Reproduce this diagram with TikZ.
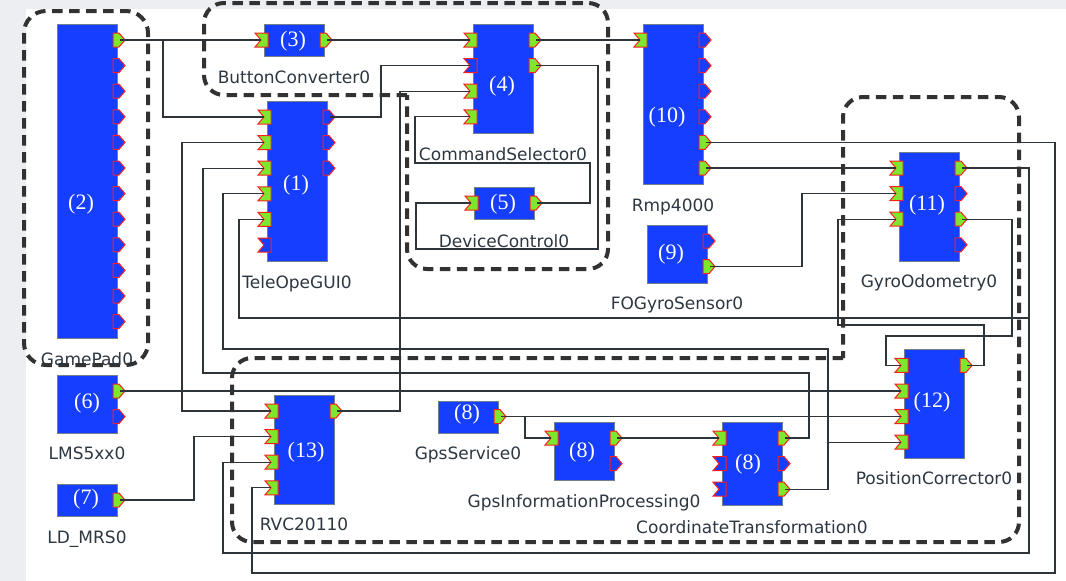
\documentclass[tikz,border=0pt]{standalone}
\usepackage{fontspec}
\setmainfont{Liberation Serif}
\newfontfamily\namefont{DejaVu Sans}

\definecolor{blockblue}{RGB}{22,62,255}
\definecolor{blockedge}{RGB}{115,128,140}
\definecolor{portgreen}{RGB}{125,230,45}
\definecolor{portred}{RGB}{255,30,30}
\definecolor{wire}{RGB}{45,52,58}
\definecolor{groupline}{RGB}{50,50,50}
\definecolor{namegray}{RGB}{45,55,65}
\definecolor{margin}{RGB}{236,238,241}

% output port: pentagon pointing right, #2 = block right edge, #3 = port height
\newcommand\portout[4]{%
  \filldraw[portshape,fill=#4] (#2-4,#3-7) -- (#2+2,#3-7) -- (#2+8,#3) -- (#2+2,#3+7) -- (#2-4,#3+7) -- cycle;
  \coordinate (#1) at (#2+3,#3);}
% input port: notched flag, #2 = block left edge, #3 = port height
\newcommand\portin[4]{%
  \filldraw[portshape,fill=#4] (#2-9,#3-7) -- (#2+4,#3-7) -- (#2+4,#3+7) -- (#2-9,#3+7) -- (#2-3,#3) -- cycle;
  \coordinate (#1) at (#2-3,#3);}

\begin{document}
\begin{tikzpicture}[x=1pt,y=-1pt,
  block/.style={rectangle,draw=blockedge,line width=0.8pt,fill=blockblue,
    minimum width=60,inner sep=0pt,anchor=north west},
  portshape/.style={draw=portred,line width=1pt,line join=miter},
  conn/.style={draw=wire,line width=1.3pt},
  group/.style={draw=groupline,line width=4pt,dash pattern=on 10.5pt off 6.5pt},
  tag/.style={text=white,font=\fontsize{22}{22}\selectfont,inner sep=0pt},
  compname/.style={text=namegray,font=\namefont\fontsize{17}{17}\selectfont,inner sep=0pt,anchor=base},
]
\useasboundingbox (0,0) rectangle (1066,581);
\fill[margin] (0,0) rectangle (1066,581);
\fill[white] (26,9) rectangle (1066,581);

% components
\node[block,minimum height=313.6] (b2) at (57,24) {};
\node[block,minimum height=32] (b3) at (264,24) {};
\node[block,minimum height=108.8] (b4) at (473,24) {};
\node[block,minimum height=160] (b10) at (643,24) {};
\node[block,minimum height=160] (b1) at (267,101) {};
\node[block,minimum height=32] (b5) at (474,187) {};
\node[block,minimum height=57.6] (b9) at (647,225) {};
\node[block,minimum height=108.8] (b11) at (899,152) {};
\node[block,minimum height=108.8] (b12) at (904,349.4) {};
\node[block,minimum height=108.8] (b13) at (274,395) {};
\node[block,minimum height=57.6] (b6) at (57,375) {};
\node[block,minimum height=32] (b7) at (57,484) {};
\node[block,minimum height=32] (b8a) at (438,400.6) {};
\node[block,minimum height=57.6] (b8b) at (554,422) {};
\node[block,minimum height=83.2] (b8c) at (722,422) {};

% ports
\portout{b2o1}{117}{40}{portgreen}
\foreach \k in {1,...,11} {\portout{b2x\k}{117}{40+25.6*\k}{blockblue}}

\portin{b3i1}{264}{40}{portgreen}
\portout{b3o1}{324}{40}{portgreen}

\portin{b4i1}{473}{40}{portgreen}
\portin{b4i2}{473}{65.6}{blockblue}
\portin{b4i3}{473}{91.2}{portgreen}
\portin{b4i4}{473}{116.8}{portgreen}
\portout{b4o1}{533}{40}{portgreen}
\portout{b4o2}{533}{65.6}{portgreen}

\portin{b10i1}{643}{40}{portgreen}
\portout{b10o1}{703}{40}{blockblue}
\portout{b10o2}{703}{65.6}{blockblue}
\portout{b10o3}{703}{91.2}{blockblue}
\portout{b10o4}{703}{116.8}{blockblue}
\portout{b10o5}{703}{142.4}{portgreen}
\portout{b10o6}{703}{168}{portgreen}

\portin{b1i1}{267}{117}{portgreen}
\portin{b1i2}{267}{142.6}{portgreen}
\portin{b1i3}{267}{168.2}{portgreen}
\portin{b1i4}{267}{193.8}{portgreen}
\portin{b1i5}{267}{219.4}{portgreen}
\portin{b1i6}{267}{245}{blockblue}
\portout{b1o1}{327}{117}{blockblue}
\portout{b1o2}{327}{142.6}{blockblue}
\portout{b1o3}{327}{168.2}{blockblue}

\portin{b5i1}{474}{203}{portgreen}
\portout{b5o1}{534}{203}{portgreen}

\portout{b9o1}{707}{241}{blockblue}
\portout{b9o2}{707}{266.6}{portgreen}

\portin{b11i1}{899}{168}{portgreen}
\portin{b11i2}{899}{193.6}{portgreen}
\portin{b11i3}{899}{219.2}{portgreen}
\portout{b11o1}{959}{168}{portgreen}
\portout{b11o2}{959}{193.6}{blockblue}
\portout{b11o3}{959}{219.2}{portgreen}
\portout{b11o4}{959}{244.8}{blockblue}

\portin{b12i1}{904}{365.4}{portgreen}
\portin{b12i2}{904}{391}{portgreen}
\portin{b12i3}{904}{416.6}{portgreen}
\portin{b12i4}{904}{442.2}{portgreen}
\portout{b12o1}{964}{365.4}{portgreen}

\portin{b13i1}{274}{411}{portgreen}
\portin{b13i2}{274}{436.6}{portgreen}
\portin{b13i3}{274}{462.2}{portgreen}
\portin{b13i4}{274}{487.8}{portgreen}
\portout{b13o1}{334}{411}{portgreen}

\portout{b6o1}{117}{391}{portgreen}
\portout{b6o2}{117}{416.6}{blockblue}

\portout{b7o1}{117}{500}{portgreen}

\portout{b8ao1}{498}{416.6}{portgreen}

\portin{b8bi1}{554}{438}{portgreen}
\portout{b8bo1}{614}{438}{portgreen}
\portout{b8bo2}{614}{463.6}{blockblue}

\portin{b8ci1}{722}{438}{portgreen}
\portin{b8ci2}{722}{463.6}{blockblue}
\portin{b8ci3}{722}{489.2}{blockblue}
\portout{b8co1}{782}{438}{portgreen}
\portout{b8co2}{782}{463.6}{blockblue}
\portout{b8co3}{782}{489.2}{portgreen}

% connections
\coordinate (j1) at (163,40);
\coordinate (j2) at (828,442.2);
\coordinate (j3) at (1029,318);
\coordinate (j4) at (525,416.6);
\draw[conn] (b2o1) -- (b3i1);
\draw[conn] (j1) |- (b1i1);
\draw[conn] (b3o1) -- (b4i1);
\draw[conn] (b4o1) -- (b10i1);
\draw[conn] (b4o2) -| (598,249) -- (416,249) |- (b5i1);
\draw[conn] (b5o1) -| (590,163) -- (415,163) |- (b4i4);
\draw[conn] (b13o1) -| (400,91.2) -- (b4i3);
\draw[conn] (b1o1) -| (381,65.6) -- (b4i2);
\draw[conn] (b1i2) -| (182,411) -- (b13i1);
\draw[conn] (b8co1) -| (809,373) -- (203,373) |- (b1i3);
\draw[conn] (b8co3) -| (828,349) -- (223,349) |- (b1i4);
\draw[conn] (j2) -- (b12i4);
\draw[conn] (b11o1) -| (1029,553) -- (223,553) |- (b13i3);
\draw[conn] (j3) -- (239,318) |- (b1i5);
\draw[conn] (b10o5) -| (1055,573) -- (252,573) |- (b13i4);
\draw[conn] (b10o6) -- (b11i1);
\draw[conn] (b9o2) -| (802,193.6) -- (b11i2);
\draw[conn] (b12o1) -| (984,325) -- (838,325) |- (b11i3);
\draw[conn] (b11o3) -| (1012,336) -- (886,336) |- (b12i1);
\draw[conn] (b6o1) -- (b12i2);
\draw[conn] (b8ao1) -- (b12i3);
\draw[conn] (j4) |- (b8bi1);
\draw[conn] (b8bo1) -- (b8ci1);
\draw[conn] (b7o1) -| (194,436.6) -- (b13i2);

% dashed groups
\draw[group,rounded corners=20] (407,95) -- (204,95) -- (204,3) -- (608,3) -- (608,269) -- (407,269) -- (407,95);
\draw[group,rounded corners=20] (843,358) -- (232,358) -- (232,542) -- (1019,542) -- (1019,97) -- (843,97) -- (843,358);
\draw[group,rounded corners=22] (24,11) rectangle (148,365);

% component tags
\node[tag] (t2) at (81,204) {(2)};
\node[tag] (t3) at (293,41) {(3)};
\node[tag] (t4) at (502,86) {(4)};
\node[tag] (t10) at (667,117) {(10)};
\node[tag] (t1) at (296,185) {(1)};
\node[tag] (t5) at (503,204) {(5)};
\node[tag] (t9) at (671,254) {(9)};
\node[tag] (t11) at (927,205) {(11)};
\node[tag] (t12) at (932,402) {(12)};
\node[tag] (t13) at (306,452) {(13)};
\node[tag] (t6) at (87,403) {(6)};
\node[tag] (t7) at (86,499) {(7)};
\node[tag] (t8a) at (467,414) {(8)};
\node[tag] (t8b) at (582,452) {(8)};
\node[tag] (t8c) at (748,464) {(8)};

% component names
\node[compname] (n2) at (87,365) {GamePad0};
\node[compname] (n3) at (294,83) {ButtonConverter0};
\node[compname] (n4) at (503,160) {CommandSelector0};
\node[compname] (n10) at (673,211) {Rmp4000};
\node[compname] (n1) at (297,288) {TeleOpeGUI0};
\node[compname] (n5) at (504,247) {DeviceControl0};
\node[compname] (n9) at (677,309) {FOGyroSensor0};
\node[compname] (n11) at (929,287) {GyroOdometry0};
\node[compname] (n12) at (934,484) {PositionCorrector0};
\node[compname] (n13) at (304,530) {RVC20110};
\node[compname] (n6) at (87,459) {LMS5xx0};
\node[compname] (n7) at (87,543) {LD\_MRS0};
\node[compname] (n8a) at (468,459) {GpsService0};
\node[compname] (n8b) at (584,507) {GpsInformationProcessing0};
\node[compname] (n8c) at (752,533) {CoordinateTransformation0};
\end{tikzpicture}
\end{document}
